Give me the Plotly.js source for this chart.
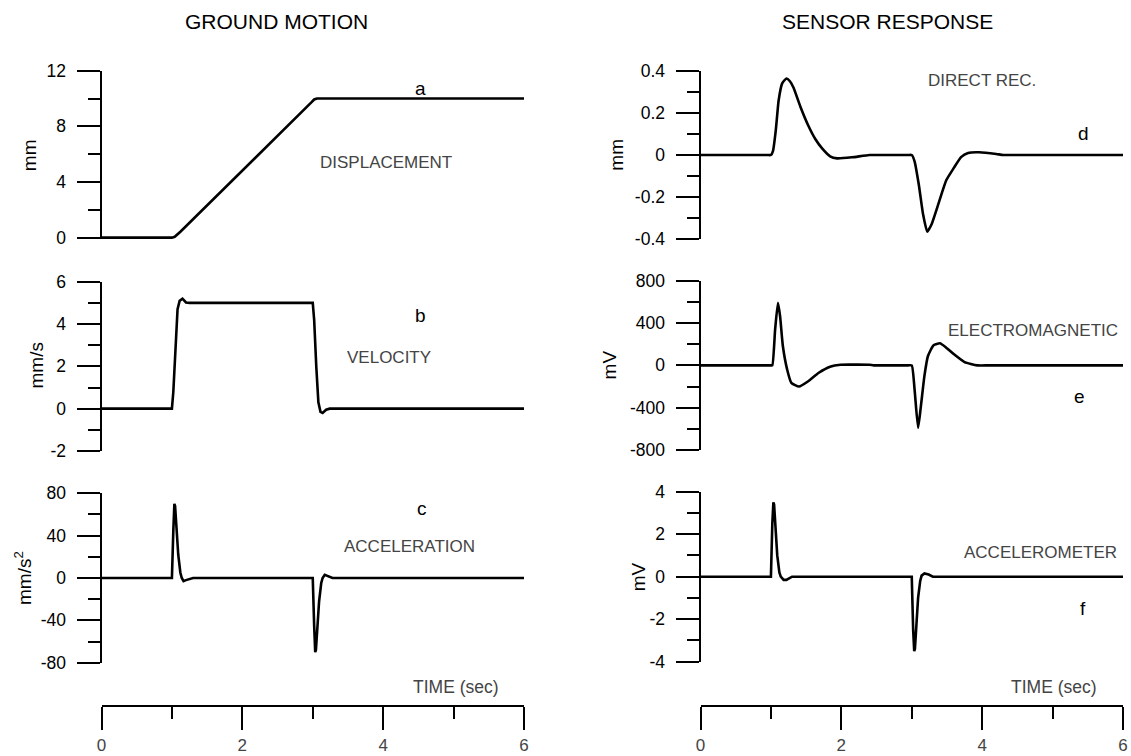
<!DOCTYPE html>
<html><head><meta charset="utf-8">
<script src="https://cdn.plot.ly/plotly-3.0.1.min.js"></script>
<style>html,body{margin:0;padding:0;background:#fff}#chart{width:1131px;height:756px}</style>
</head><body><div id="chart"></div>
<script>
// ---------------- data ----------------
// a: ground displacement (mm)
const tDisp = [0, 1.0, 1.04, 1.08, 1.12, 2.98, 3.02, 3.06, 6];
const vDisp = [0, 0, 0.06, 0.22, 0.42, 9.72, 9.93, 10.0, 10.0];
// b: ground velocity (mm/s)
const tVel = [0, 1.0, 1.02, 1.05, 1.08, 1.11, 1.15, 1.2, 1.25, 3.0, 3.02, 3.05, 3.08, 3.11, 3.14, 3.19, 3.24, 6];
const vVel = [0, 0, 0.8, 3.0, 4.7, 5.1, 5.2, 5.02, 5.0, 5.0, 4.2, 2.0, 0.3, -0.15, -0.2, -0.05, 0, 0];
// c: ground acceleration (mm/s^2)
const tAcc = [0, 1.0, 1.02, 1.035, 1.045, 1.06, 1.09, 1.12, 1.14, 1.165, 1.2, 1.3, 3.0, 3.02, 3.035, 3.045, 3.06, 3.09, 3.12, 3.14, 3.17, 3.2, 3.28, 6];
const vAcc = [0, 0, 45, 70, 68, 50, 22, 5, 0, -3, -2, 0, 0, -45, -70, -68, -50, -22, -5, 0, 3, 2, 0, 0];
// d: direct recording sensor (mm)
const tDir = [0, 0.5, 0.95, 1.0, 1.03, 1.07, 1.11, 1.16, 1.22, 1.27, 1.32, 1.42, 1.53, 1.63, 1.73, 1.84, 1.94, 2.15, 2.4, 2.6, 2.8, 2.95, 3.0, 3.04, 3.1, 3.16, 3.22, 3.28, 3.39, 3.49, 3.6, 3.7, 3.8, 3.96, 4.2, 4.3, 4.5, 5.0, 5.5, 6];
const vDir = [0, 0, 0, 0, 0.02, 0.12, 0.26, 0.34, 0.363, 0.35, 0.32, 0.228, 0.14, 0.076, 0.03, -0.006, -0.016, -0.011, 0, 0, 0, 0, 0, -0.03, -0.14, -0.28, -0.364, -0.33, -0.22, -0.12, -0.06, -0.01, 0.01, 0.013, 0.005, 0, 0, 0, 0, 0];
// e: electromagnetic sensor (mV)
const tEm = [0, 0.5, 0.95, 1.0, 1.02, 1.06, 1.10, 1.13, 1.17, 1.23, 1.29, 1.40, 1.53, 1.68, 1.84, 1.99, 2.20, 2.40, 2.46, 2.6, 2.8, 2.95, 3.0, 3.04, 3.09, 3.13, 3.18, 3.23, 3.31, 3.40, 3.49, 3.60, 3.75, 3.93, 4.1, 4.5, 5.0, 5.5, 6];
const vEm = [0, 0, 0, 0, 0, 340, 590, 465, 180, -38, -165, -200, -150, -70, -13, 6, 7, 6, 0, 0, 0, 0, 0, -227, -590, -385, -100, 88, 190, 208, 167, 104, 31, 0, 0, 0, 0, 0, 0];
// f: accelerometer (mV)
const tAcm = [0, 1.0, 1.02, 1.035, 1.045, 1.06, 1.09, 1.12, 1.14, 1.18, 1.22, 1.3, 3.0, 3.02, 3.035, 3.045, 3.06, 3.09, 3.12, 3.14, 3.18, 3.24, 3.3, 6];
const vAcm = [0, 0, 2.5, 3.5, 3.4, 2.5, 1.0, 0.2, 0, -0.15, -0.15, 0, 0, -2.5, -3.5, -3.4, -2.5, -1.0, -0.2, 0.05, 0.15, 0.1, 0, 0];

// tick labels
const tickA = [0, 4, 8, 12],         tickAtxt = ['0', '4', '8', '12'],          minorA = [2, 6, 10];
const tickB = [-2, 0, 2, 4, 6],      tickBtxt = ['-2', '0', '2', '4', '6'],     minorB = [-1, 1, 3, 5];
const tickC = [-80, -40, 0, 40, 80], tickCtxt = ['-80', '-40', '0', '40', '80'], minorC = [-60, -20, 20, 60];
const tickD = [-0.4, -0.2, 0, 0.2, 0.4], tickDtxt = ['-0.4', '-0.2', '0', '0.2', '0.4'], minorD = [-0.3, -0.1, 0.1, 0.3];
const tickE = [-800, -400, 0, 400, 800], tickEtxt = ['-800', '-400', '0', '400', '800'], minorE = [-600, -200, 200, 600];
const tickF = [-4, -2, 0, 2, 4],     tickFtxt = ['-4', '-2', '0', '2', '4'],    minorF = [-3, -1, 1, 3];
const tickT = [0, 2, 4, 6],          tickTtxt = ['0', '2', '4', '6'],           minorT = [1, 3, 5];

// ---------------- layout ----------------
const FONT = 'Liberation Sans, Arial, Helvetica, sans-serif';
const W = 1131, H = 756;
const px = v => v / W, py = v => 1 - v / H;

const leftX = [px(101.5), px(524)];
const rightX = [px(700.5), px(1123)];

function line(t, v, n, smooth) {
  const ln = {color: '#000', width: 2.6};
  if (smooth) { ln.shape = 'spline'; ln.smoothing = 0.5; }
  return {x: t, y: v, xaxis: 'x' + n, yaxis: 'y' + n, type: 'scatter', mode: 'lines',
          line: ln, hoverinfo: 'skip', showlegend: false};
}
function xHidden(dom, n) {
  return {domain: dom, range: [0, 6], visible: false, anchor: 'y' + n, fixedrange: true};
}
function yAx(domPx, rng, tv, tt, mv, n) {
  return {domain: [py(domPx[1]), py(domPx[0])], range: rng, anchor: 'x' + n,
    showline: true, linecolor: '#000', linewidth: 2, ticks: 'outside', ticklen: 23, tickwidth: 2, tickcolor: '#000',
    tickmode: 'array', tickvals: tv, ticktext: tt,
    minor: {tickmode: 'array', tickvals: mv, ticks: 'outside', ticklen: 12, tickwidth: 2, tickcolor: '#000', showgrid: false},
    showgrid: false, zeroline: false, ticklabelstandoff: 7, automargin: false, fixedrange: true,
    tickfont: {family: FONT, size: 17.5, color: '#000'}};
}
function timeAx(dom, n) {
  return {domain: dom, range: [0, 6], anchor: 'y' + n,
    showline: true, linecolor: '#000', linewidth: 2, ticks: 'outside', ticklen: 23, tickwidth: 2, tickcolor: '#000',
    tickmode: 'array', tickvals: tickT, ticktext: tickTtxt,
    minor: {tickmode: 'array', tickvals: minorT, ticks: 'outside', ticklen: 12, tickwidth: 2, tickcolor: '#000', showgrid: false},
    showgrid: false, zeroline: false, ticklabelstandoff: 1, automargin: false, fixedrange: true,
    tickfont: {family: FONT, size: 17, color: '#444'}};
}

const data = [
  line(tDisp, vDisp, 1), line(tVel, vVel, 2), line(tAcc, vAcc, 3),
  line(tDir, vDir, 4, true), line(tEm, vEm, 5, true), line(tAcm, vAcm, 6),
  {x: [], y: [], xaxis: 'x7', yaxis: 'y7', type: 'scatter', mode: 'lines', showlegend: false},
  {x: [], y: [], xaxis: 'x8', yaxis: 'y8', type: 'scatter', mode: 'lines', showlegend: false}
];

function lbl(text, x, y, size, color, extra) {
  return Object.assign({text: text, x: px(x), y: py(y), xref: 'paper', yref: 'paper', showarrow: false,
    xanchor: 'center', yanchor: 'middle', font: {family: FONT, size: size, color: color}}, extra || {});
}
function ytitle(text, x, y) { return lbl(text, x, y, 19, '#000', {textangle: -90}); }

const annotations = [
  lbl('GROUND MOTION', 276, 22, 21, '#000'),
  lbl('SENSOR RESPONSE', 887, 22, 21, '#000'),
  lbl('a', 420.6, 88, 19, '#000'),
  lbl('DISPLACEMENT', 385.6, 163, 17, '#444'),
  lbl('b', 420.6, 315, 19, '#000'),
  lbl('VELOCITY', 389, 358, 17, '#444'),
  lbl('c', 421.6, 508, 19, '#000'),
  lbl('ACCELERATION', 409.5, 546.7, 17, '#444'),
  lbl('TIME (sec)', 456, 687.3, 17.5, '#444'),
  lbl('DIRECT REC.', 982.4, 80, 17, '#444'),
  lbl('d', 1083, 133, 19, '#000'),
  lbl('ELECTROMAGNETIC', 1033, 330, 17, '#444'),
  lbl('e', 1079, 396.7, 19, '#000'),
  lbl('ACCELEROMETER', 1040, 552.7, 17, '#444'),
  lbl('f', 1083, 608, 19, '#000'),
  lbl('TIME (sec)', 1054, 687, 17.5, '#444'),
  ytitle('mm', 30.2, 155),
  ytitle('mm/s', 35.5, 366),
  ytitle('mm/s<sup>2</sup>', 23, 578),
  ytitle('mm', 616.7, 155),
  ytitle('mV', 609.4, 365),
  ytitle('mV', 638.6, 576.7)
];

const layout = {
  width: W, height: H, margin: {l: 0, r: 0, t: 0, b: 0},
  paper_bgcolor: '#fff', plot_bgcolor: '#fff', showlegend: false,
  font: {family: FONT, color: '#000'},
  xaxis: xHidden(leftX, 1), xaxis2: xHidden(leftX, 2), xaxis3: xHidden(leftX, 3),
  xaxis4: xHidden(rightX, 4), xaxis5: xHidden(rightX, 5), xaxis6: xHidden(rightX, 6),
  yaxis: yAx([70.7, 239.3], [-0.12, 12], tickA, tickAtxt, minorA, 1),
  yaxis2: yAx([281.7, 451], [-2, 6], tickB, tickBtxt, minorB, 2),
  yaxis3: yAx([493.3, 662.7], [-80, 80], tickC, tickCtxt, minorC, 3),
  yaxis4: yAx([70.7, 239.3], [-0.4, 0.4], tickD, tickDtxt, minorD, 4),
  yaxis5: yAx([280.7, 450], [-800, 800], tickE, tickEtxt, minorE, 5),
  yaxis6: yAx([491.7, 661.7], [-4, 4], tickF, tickFtxt, minorF, 6),
  xaxis7: timeAx(leftX, 7), xaxis8: timeAx(rightX, 8),
  yaxis7: {domain: [py(705), py(690)], range: [0, 1], visible: false, anchor: 'x7', fixedrange: true},
  yaxis8: {domain: [py(705), py(690)], range: [0, 1], visible: false, anchor: 'x8', fixedrange: true},
  annotations: annotations
};

Plotly.newPlot('chart', data, layout, {staticPlot: true, displayModeBar: false});
</script></body></html>
